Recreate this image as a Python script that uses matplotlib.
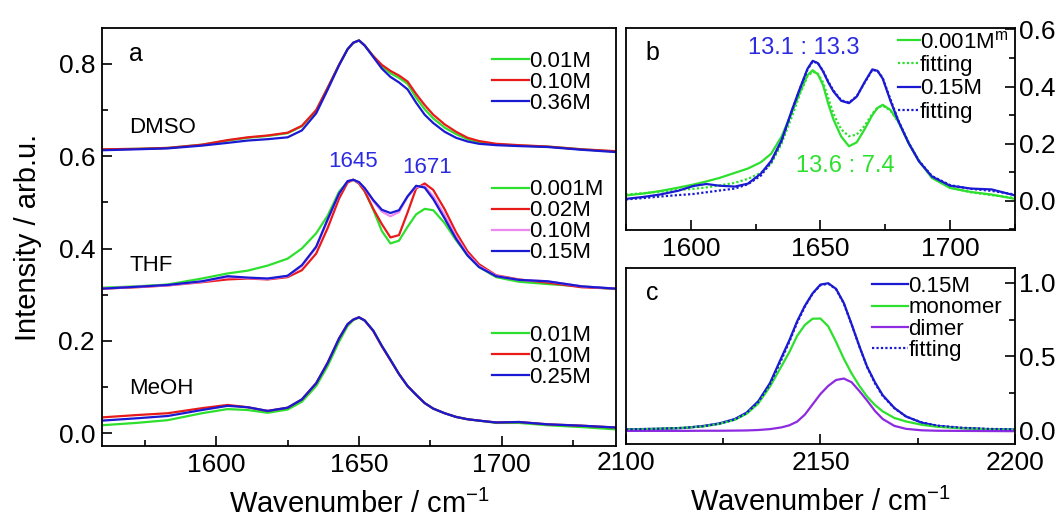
import numpy as np
import matplotlib
matplotlib.use('Agg')
import matplotlib.pyplot as plt
from matplotlib.ticker import MultipleLocator

plt.rcParams['font.family'] = ['Liberation Sans', 'DejaVu Sans']
plt.rcParams['mathtext.default'] = 'regular'

GREEN = '#2ee02e'
RED = '#e81a1a'
BLUE = '#1a1ad2'
PINK = '#ee88ee'
PURPLE = '#8c2be0'
TXT_BLUE = '#2b2be0'

# ---------------- panel a : amide I region, three solvents ----------------
wn_a = [1560, 1572, 1583, 1595, 1604, 1611, 1618, 1625, 1630, 1635, 1639, 1643,
        1646, 1648, 1650, 1652, 1655, 1658, 1661, 1664, 1667, 1670, 1673, 1676,
        1680, 1684, 1688, 1692, 1698, 1706, 1716, 1728, 1740]

dmso_001 = [0.615, 0.616, 0.618, 0.625, 0.634, 0.640, 0.644, 0.650, 0.665, 0.699, 0.748, 0.798,
            0.832, 0.846, 0.851, 0.840, 0.817, 0.795, 0.780, 0.770, 0.757, 0.727, 0.702, 0.682,
            0.662, 0.648, 0.637, 0.630, 0.626, 0.623, 0.621, 0.615, 0.610]
dmso_010 = [0.615, 0.616, 0.618, 0.625, 0.635, 0.641, 0.645, 0.651, 0.666, 0.700, 0.748, 0.798,
            0.832, 0.846, 0.851, 0.840, 0.817, 0.798, 0.785, 0.775, 0.762, 0.735, 0.711, 0.690,
            0.669, 0.653, 0.640, 0.633, 0.627, 0.624, 0.621, 0.615, 0.611]
dmso_036 = [0.613, 0.615, 0.617, 0.623, 0.629, 0.634, 0.637, 0.641, 0.656, 0.693, 0.744, 0.797,
            0.832, 0.846, 0.851, 0.840, 0.815, 0.790, 0.772, 0.760, 0.745, 0.716, 0.690, 0.672,
            0.653, 0.640, 0.632, 0.627, 0.624, 0.622, 0.620, 0.614, 0.609]

thf_0001 = [0.315, 0.318, 0.322, 0.335, 0.346, 0.352, 0.363, 0.378, 0.400, 0.433, 0.471, 0.523,
            0.545, 0.549, 0.541, 0.524, 0.484, 0.438, 0.411, 0.417, 0.447, 0.474, 0.486, 0.483,
            0.455, 0.418, 0.385, 0.360, 0.338, 0.328, 0.323, 0.318, 0.312]
thf_002 = [0.313, 0.316, 0.320, 0.327, 0.333, 0.335, 0.333, 0.338, 0.353, 0.389, 0.444, 0.508,
           0.543, 0.549, 0.541, 0.524, 0.486, 0.453, 0.424, 0.429, 0.478, 0.530, 0.541, 0.527,
           0.485, 0.435, 0.394, 0.366, 0.342, 0.333, 0.326, 0.316, 0.313]
thf_010 = [0.313, 0.317, 0.320, 0.328, 0.338, 0.336, 0.334, 0.340, 0.362, 0.402, 0.461, 0.518,
           0.546, 0.549, 0.543, 0.530, 0.503, 0.480, 0.470, 0.479, 0.512, 0.533, 0.535, 0.513,
           0.472, 0.426, 0.388, 0.362, 0.341, 0.332, 0.329, 0.318, 0.313]
thf_015 = [0.313, 0.317, 0.321, 0.329, 0.340, 0.337, 0.335, 0.341, 0.364, 0.404, 0.463, 0.519,
           0.546, 0.549, 0.544, 0.531, 0.505, 0.484, 0.477, 0.483, 0.513, 0.536, 0.532, 0.507,
           0.465, 0.421, 0.385, 0.360, 0.340, 0.332, 0.329, 0.318, 0.313]

meoh_001 = [0.017, 0.022, 0.028, 0.043, 0.052, 0.050, 0.044, 0.051, 0.068, 0.102, 0.145, 0.198,
            0.232, 0.245, 0.250, 0.244, 0.222, 0.189, 0.159, 0.128, 0.102, 0.083, 0.065, 0.053,
            0.043, 0.035, 0.030, 0.027, 0.022, 0.022, 0.017, 0.013, 0.008]
meoh_010 = [0.034, 0.039, 0.043, 0.054, 0.061, 0.056, 0.048, 0.055, 0.073, 0.108, 0.152, 0.205,
            0.236, 0.246, 0.251, 0.244, 0.221, 0.188, 0.158, 0.128, 0.102, 0.083, 0.065, 0.053,
            0.043, 0.035, 0.030, 0.027, 0.023, 0.024, 0.019, 0.016, 0.012]
meoh_025 = [0.027, 0.032, 0.037, 0.050, 0.059, 0.056, 0.048, 0.055, 0.073, 0.108, 0.152, 0.205,
            0.236, 0.246, 0.251, 0.244, 0.222, 0.189, 0.159, 0.128, 0.102, 0.083, 0.065, 0.053,
            0.043, 0.035, 0.030, 0.027, 0.023, 0.024, 0.019, 0.016, 0.012]

# ---------------- panel b : THF spectra with fits ----------------
wn_b = [1575, 1582, 1588, 1595, 1601, 1606, 1611, 1617, 1622, 1627, 1631, 1635,
        1639, 1642, 1645, 1647, 1649, 1651, 1653, 1655, 1658, 1661, 1664, 1667,
        1670, 1672, 1674, 1677, 1680, 1684, 1688, 1693, 1700, 1708, 1716, 1725]

b_0001 = [0.019, 0.026, 0.034, 0.046, 0.057, 0.068, 0.080, 0.098, 0.113, 0.135, 0.165, 0.225,
          0.310, 0.378, 0.440, 0.457, 0.443, 0.405, 0.340, 0.285, 0.225, 0.191, 0.205, 0.250,
          0.300, 0.325, 0.336, 0.318, 0.278, 0.202, 0.139, 0.080, 0.045, 0.031, 0.022, 0.007]
b_0001_fit = [0.022, 0.027, 0.032, 0.038, 0.042, 0.047, 0.054, 0.063, 0.077, 0.098, 0.130, 0.200,
              0.295, 0.372, 0.436, 0.452, 0.445, 0.415, 0.360, 0.305, 0.250, 0.226, 0.232, 0.262,
              0.305, 0.326, 0.333, 0.316, 0.276, 0.204, 0.140, 0.082, 0.046, 0.030, 0.020, 0.010]
b_015 = [0.007, 0.014, 0.022, 0.035, 0.052, 0.059, 0.053, 0.050, 0.060, 0.095, 0.140, 0.212,
         0.318, 0.392, 0.462, 0.490, 0.482, 0.453, 0.415, 0.383, 0.350, 0.342, 0.365, 0.415,
         0.460, 0.455, 0.428, 0.350, 0.280, 0.202, 0.138, 0.085, 0.053, 0.043, 0.040, 0.019]
b_015_fit = [0.005, 0.010, 0.015, 0.020, 0.024, 0.030, 0.036, 0.043, 0.058, 0.088, 0.135, 0.208,
             0.315, 0.390, 0.460, 0.488, 0.482, 0.455, 0.418, 0.386, 0.352, 0.344, 0.366, 0.413,
             0.458, 0.455, 0.430, 0.355, 0.282, 0.203, 0.140, 0.087, 0.055, 0.042, 0.035, 0.022]

# ---------------- panel c : 2150 band decomposition ----------------
wn_c = [2100, 2108, 2115, 2120, 2124, 2128, 2131, 2134, 2137, 2140, 2142, 2144,
        2146, 2148, 2150, 2152, 2154, 2156, 2158, 2160, 2162, 2164, 2166, 2169,
        2172, 2176, 2180, 2186, 2193, 2200]

c_015 = [0.005, 0.008, 0.014, 0.028, 0.045, 0.075, 0.118, 0.195, 0.318, 0.495, 0.610, 0.739,
         0.845, 0.930, 0.989, 0.998, 0.960, 0.864, 0.720, 0.570, 0.430, 0.325, 0.237, 0.150,
         0.092, 0.050, 0.028, 0.014, 0.006, 0.003]
c_mono = [0.003, 0.008, 0.015, 0.025, 0.042, 0.070, 0.110, 0.180, 0.295, 0.435, 0.530, 0.640,
          0.715, 0.757, 0.758, 0.705, 0.600, 0.485, 0.385, 0.300, 0.227, 0.170, 0.127, 0.082,
          0.058, 0.036, 0.022, 0.012, 0.005, 0.002]
c_dimer = [-0.006, -0.006, -0.006, -0.005, -0.005, -0.004, -0.003, 0.000, 0.006, 0.018, 0.032, 0.057,
           0.105, 0.175, 0.245, 0.300, 0.340, 0.350, 0.325, 0.265, 0.200, 0.130, 0.075, 0.028,
           0.008, -0.002, -0.005, -0.006, -0.007, -0.008]
c_fit = [0.004, 0.008, 0.015, 0.026, 0.043, 0.072, 0.115, 0.190, 0.310, 0.480, 0.600, 0.730,
         0.840, 0.928, 0.985, 0.995, 0.958, 0.860, 0.718, 0.568, 0.428, 0.318, 0.232, 0.148,
         0.092, 0.052, 0.030, 0.016, 0.008, 0.004]

LW = 1.6
TICK_FS = 19
LEG_FS = 16
LABEL_FS = 21

fig = plt.figure(figsize=(10.59, 5.18), dpi=100)
ax_a = fig.add_axes([0.0963, 0.139, 0.4854, 0.807])
ax_b = fig.add_axes([0.5911, 0.556, 0.3673, 0.390])
ax_c = fig.add_axes([0.5911, 0.1429, 0.3673, 0.3398])

for ax in (ax_a, ax_b, ax_c):
    for s in ax.spines.values():
        s.set_linewidth(1.3)
    ax.tick_params(which='both', direction='in', width=1.2, labelsize=TICK_FS, top=False)
    ax.tick_params(which='major', length=7)
    ax.tick_params(which='minor', length=4)

leg_kw = dict(loc='upper left', frameon=False, fontsize=LEG_FS, handletextpad=0.0,
              borderpad=0, borderaxespad=0)

# panel a
for y, c in [(dmso_001, GREEN), (dmso_010, RED), (dmso_036, BLUE)]:
    ax_a.plot(wn_a, y, color=c, lw=LW)
l1 = ax_a.legend(ax_a.lines[0:3], ['0.01M', '0.10M', '0.36M'], bbox_to_anchor=(0.759, 0.946),
                 handlelength=1.65, labelspacing=0.0, **leg_kw)
ax_a.add_artist(l1)
for y, c in [(thf_0001, GREEN), (thf_002, RED), (thf_010, PINK), (thf_015, BLUE)]:
    ax_a.plot(wn_a, y, color=c, lw=LW)
l2 = ax_a.legend(ax_a.lines[3:7], ['0.001M', '0.02M', '0.10M', '0.15M'], bbox_to_anchor=(0.759, 0.638),
                 handlelength=1.65, labelspacing=0.0, **leg_kw)
ax_a.add_artist(l2)
for y, c in [(meoh_001, GREEN), (meoh_010, RED), (meoh_025, BLUE)]:
    ax_a.plot(wn_a, y, color=c, lw=LW)
ax_a.legend(ax_a.lines[7:10], ['0.01M', '0.10M', '0.25M'], bbox_to_anchor=(0.759, 0.290),
            handlelength=1.65, labelspacing=0.0, **leg_kw)

ax_a.text(1569.5, 0.821, 'a', fontsize=18, va='center')
ax_a.text(1569.5, 0.663, 'DMSO', fontsize=16, va='center')
ax_a.text(1569.5, 0.364, 'THF', fontsize=16, va='center')
ax_a.text(1569.5, 0.0975, 'MeOH', fontsize=16, va='center')
ax_a.text(1648, 0.589, '1645', fontsize=16, color=TXT_BLUE, ha='center', va='center')
ax_a.text(1673.9, 0.576, '1671', fontsize=16, color=TXT_BLUE, ha='center', va='center')

ax_a.set_xlim(1560, 1740)
ax_a.set_ylim(-0.028, 0.878)
ax_a.xaxis.set_major_locator(MultipleLocator(50))
ax_a.xaxis.set_minor_locator(MultipleLocator(25))
ax_a.yaxis.set_major_locator(MultipleLocator(0.2))
ax_a.yaxis.set_minor_locator(MultipleLocator(0.1))
ax_a.tick_params(which='both', right=False, pad=5)
ax_a.set_xlabel('Wavenumber / cm$^{-1}$', fontsize=LABEL_FS, labelpad=9)
ax_a.set_ylabel('Intensity / arb.u.', fontsize=LABEL_FS, labelpad=12)

# panel b
ax_b.plot(wn_b, b_0001, color=GREEN, lw=LW, label='0.001M$^{m}$')
ax_b.plot(wn_b, b_0001_fit, color=GREEN, lw=LW, ls=(0, (1, 1)), label='fitting')
ax_b.plot(wn_b, b_015, color=BLUE, lw=LW, label='0.15M')
ax_b.plot(wn_b, b_015_fit, color=BLUE, lw=LW, ls=(0, (1, 1)), label='fitting')
ax_b.legend(bbox_to_anchor=(0.699, 0.985), handlelength=1.0, labelspacing=0.1, **leg_kw)
ax_b.text(1582.7, 0.519, 'b', fontsize=18, va='center')
ax_b.text(1643.4, 0.534, '13.1 : 13.3', fontsize=17, color=TXT_BLUE, ha='center', va='center')
ax_b.text(1659.6, 0.121, '13.6 : 7.4', fontsize=17, color=GREEN, ha='center', va='center')
ax_b.set_xlim(1575, 1725)
ax_b.set_ylim(-0.102, 0.605)
ax_b.xaxis.set_major_locator(MultipleLocator(50))
ax_b.xaxis.set_minor_locator(MultipleLocator(25))
ax_b.yaxis.set_major_locator(MultipleLocator(0.2))
ax_b.yaxis.set_minor_locator(MultipleLocator(0.1))
ax_b.tick_params(which='both', left=False, labelleft=False, right=True, labelright=True)
ax_b.tick_params(axis='y', pad=3)
ax_b.tick_params(axis='x', pad=5)

# panel c
ax_c.plot(wn_c, c_015, color=BLUE, lw=LW, label='0.15M')
ax_c.plot(wn_c, c_mono, color=GREEN, lw=LW, label='monomer')
ax_c.plot(wn_c, c_dimer, color=PURPLE, lw=LW, label='dimer')
ax_c.plot(wn_c, c_fit, color=BLUE, lw=LW, ls=(0, (1, 1)), label='fitting')
ax_c.legend(bbox_to_anchor=(0.632, 0.955), handlelength=1.65, labelspacing=0.02, **leg_kw)
ax_c.text(2105.2, 0.932, 'c', fontsize=18, va='center')
ax_c.set_xlim(2100, 2200)
ax_c.set_ylim(-0.095, 1.102)
ax_c.xaxis.set_major_locator(MultipleLocator(50))
ax_c.xaxis.set_minor_locator(MultipleLocator(25))
ax_c.yaxis.set_major_locator(MultipleLocator(0.5))
ax_c.yaxis.set_minor_locator(MultipleLocator(0.25))
ax_c.tick_params(which='both', left=False, labelleft=False, right=True, labelright=True)
ax_c.tick_params(axis='y', pad=3)
ax_c.tick_params(axis='x', pad=5)
ax_c.set_xlabel('Wavenumber / cm$^{-1}$', fontsize=LABEL_FS, labelpad=9)

fig.savefig('out.png', dpi=100)
